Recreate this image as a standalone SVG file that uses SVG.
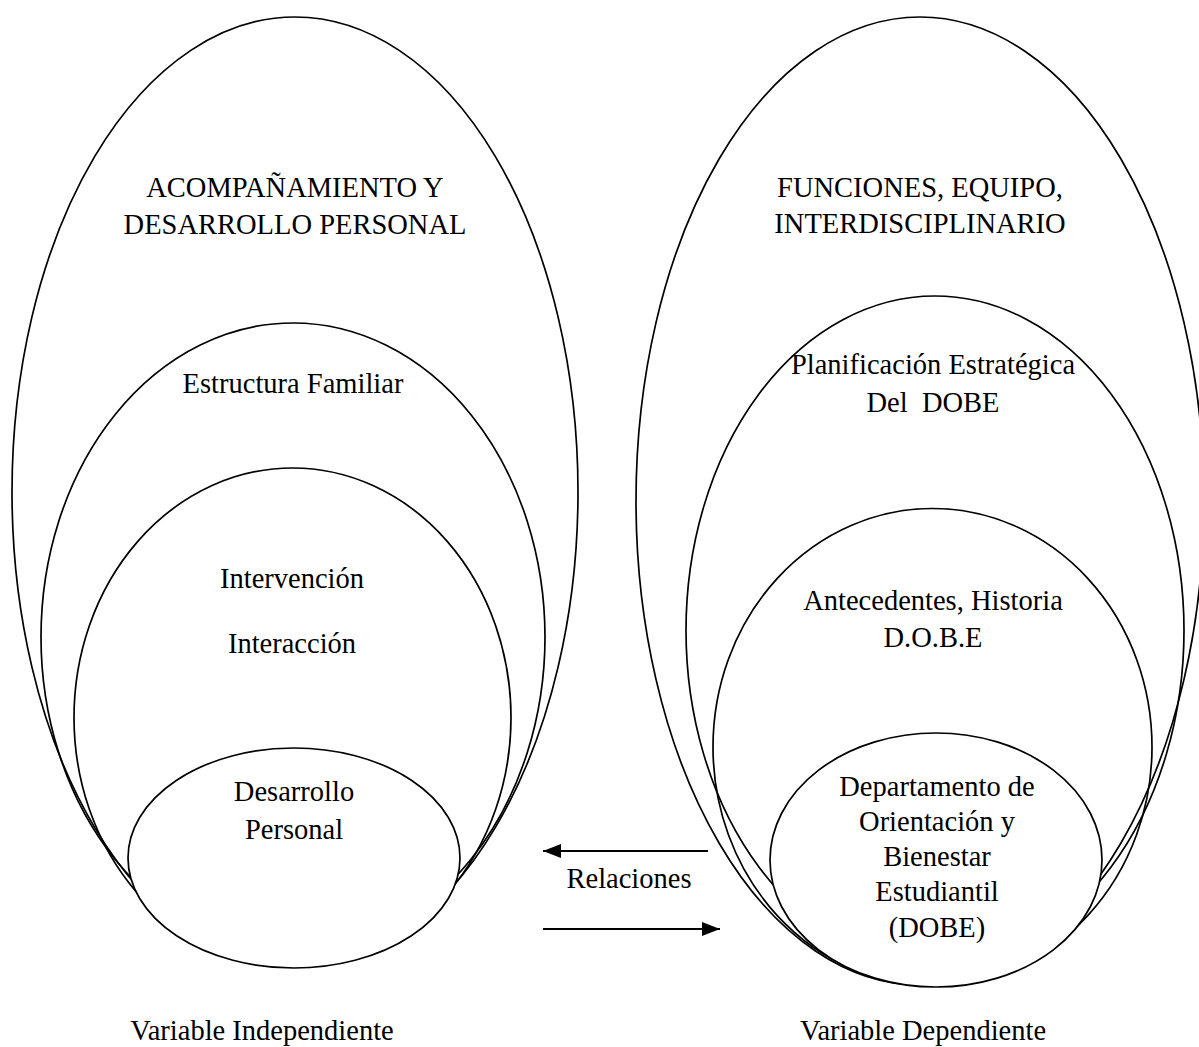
<svg xmlns="http://www.w3.org/2000/svg" width="1199" height="1047" viewBox="0 0 1199 1047">
<style>
.sh{fill:none;stroke:#000;stroke-width:1.7}
.in{fill:#fff;stroke:#000;stroke-width:1.7}
text{font-family:"Liberation Serif","Times New Roman",serif;font-size:28.5px;fill:#000;text-anchor:middle}
.ln{stroke:#000;stroke-width:2;fill:none}
</style>
<defs>
<marker id="ah" viewBox="0 0 18 14" refX="18" refY="7" markerWidth="18" markerHeight="14" markerUnits="userSpaceOnUse" orient="auto">
<path d="M0,0 L18,7 L0,14 Z" fill="#000"/>
</marker>
</defs>
<rect width="1199" height="1047" fill="#fff"/>
<g id="left-outer">
<ellipse class="sh" cx="295" cy="492" rx="283" ry="475"/>
<text x="295" y="197">ACOMPAÑAMIENTO Y</text>
<text x="295" y="234">DESARROLLO PERSONAL</text>
</g>
<g id="left-2">
<ellipse class="sh" cx="293" cy="637" rx="252" ry="314"/>
<text x="293" y="393">Estructura Familiar</text>
</g>
<g id="left-3">
<ellipse class="sh" cx="292.5" cy="717.5" rx="218.5" ry="249.5"/>
<text x="292" y="588">Intervención</text>
<text x="292" y="653">Interacción</text>
</g>
<g id="left-inner">
<ellipse class="in" cx="294" cy="858" rx="166" ry="110"/>
<text x="294" y="801">Desarrollo</text>
<text x="294" y="839">Personal</text>
</g>
<g id="right-outer">
<ellipse class="sh" cx="920" cy="501" rx="284" ry="484"/>
<text x="920" y="197">FUNCIONES, EQUIPO,</text>
<text x="920" y="233">INTERDISCIPLINARIO</text>
</g>
<g id="right-2">
<ellipse class="sh" cx="935" cy="630.5" rx="249" ry="334.5"/>
<text x="933" y="374">Planificación Estratégica</text>
<text x="933" y="412" xml:space="preserve">Del  DOBE</text>
</g>
<g id="right-3">
<ellipse class="sh" cx="932.5" cy="747" rx="219.5" ry="238.5"/>
<text x="933" y="610">Antecedentes, Historia</text>
<text x="933" y="647">D.O.B.E</text>
</g>
<g id="right-inner">
<ellipse class="in" cx="936" cy="860" rx="166" ry="127"/>
<text x="937" y="796">Departamento de</text>
<text x="937" y="831">Orientación y</text>
<text x="937" y="866">Bienestar</text>
<text x="937" y="901">Estudiantil</text>
<text x="937" y="937">(DOBE)</text>
</g>
<g id="connectors">
<line class="ln" x1="708" y1="851" x2="543" y2="851" marker-end="url(#ah)"/>
<line class="ln" x1="543" y1="929" x2="720" y2="929" marker-end="url(#ah)"/>
<text x="629" y="888">Relaciones</text>
</g>
<g id="labels">
<text x="262" y="1040">Variable Independiente</text>
<text x="923" y="1040">Variable Dependiente</text>
</g>
</svg>
